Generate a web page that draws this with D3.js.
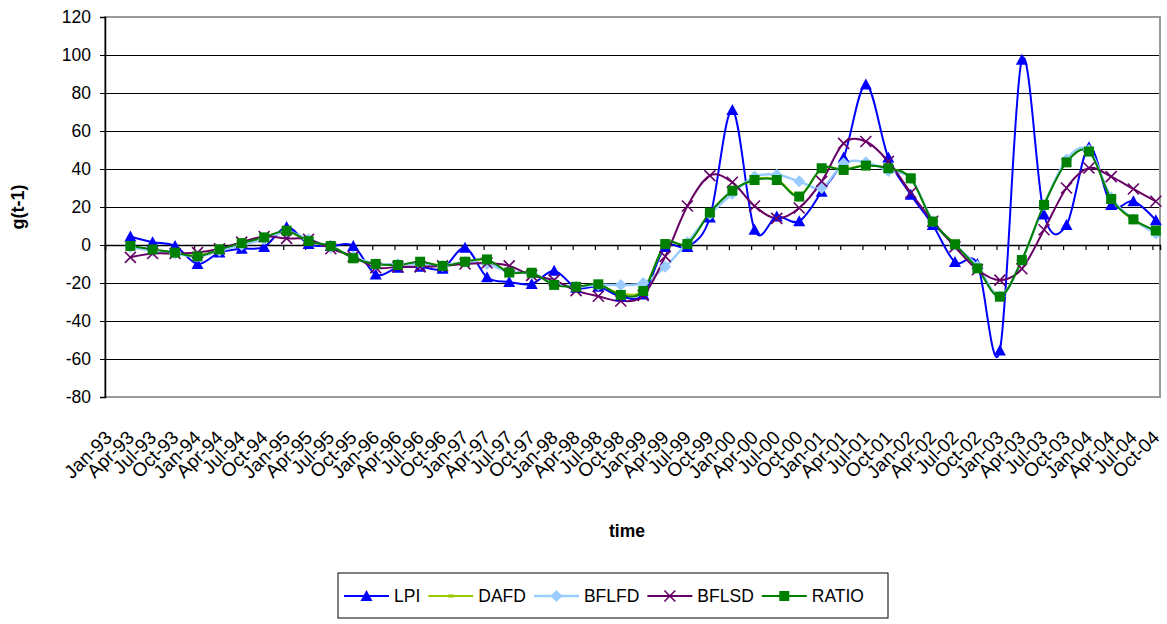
<!DOCTYPE html>
<html>
<head>
<meta charset="utf-8">
<script src="https://cdn.jsdelivr.net/npm/d3@7"></script>
<style>
  body { margin: 0; background: #fff; }
  svg text { font-family: "Liberation Sans", Arial, sans-serif; fill: #000; }
</style>
</head>
<body>
<script>
// Quarter tick labels on the time axis
const tickLabels = [
  "Jan-93","Apr-93","Jul-93","Oct-93","Jan-94","Apr-94","Jul-94","Oct-94",
  "Jan-95","Apr-95","Jul-95","Oct-95","Jan-96","Apr-96","Jul-96","Oct-96",
  "Jan-97","Apr-97","Jul-97","Oct-97","Jan-98","Apr-98","Jul-98","Oct-98",
  "Jan-99","Apr-99","Jul-99","Oct-99","Jan-00","Apr-00","Jul-00","Oct-00",
  "Jan-01","Apr-01","Jul-01","Oct-01","Jan-02","Apr-02","Jul-02","Oct-02",
  "Jan-03","Apr-03","Jul-03","Oct-03","Jan-04","Apr-04","Jul-04","Oct-04"
];
const yTicks = [-80, -60, -40, -20, 0, 20, 40, 60, 80, 100, 120];

// Series values, one per quarter from Apr-93 to Oct-04
const lpi = [4.5, 1.5, -0.5, -10, -4, -2, -1, 9.5, 0.5, -0.5, -0.5, -15.5,
  -12, -11.5, -12.5, -1.5, -17, -19.5, -20.5, -13.5, -22.5, -22, -27, -26,
  -1, -1, 14.5, 71, 8, 15, 12.5, 28, 46, 84.5, 46, 26.5,
  10.5, -9, -10, -55.5, 97.5, 16, 10.5, 51.5, 21, 23, 13];
const dafd = [-0.5, -2.5, -4, -5.5, -2.5, 1, 4, 7, 2, -1, -6.5, -10,
  -10.5, -9.5, -10.5, -9, -8, -14, -15, -20.5, -22, -21, -25.5, -23.5,
  0, 1, 17, 28, 34.5, 34.5, 26, 40, 40, 42, 40.5, 35,
  12.5, 0.5, -12, -26.5, -8.5, 21.5, 44, 49.5, 24.5, 13, 7];
const bflfd = [-1, -3, -4.5, -6, -3, 0, 3, 7, 3, -1.5, -6, -10,
  -10, -10, -11, -9, -10, -14, -15, -20, -22, -21, -21, -20,
  -11.5, 1.5, 16, 27, 36, 37, 33.5, 30, 43, 43.5, 39, 35,
  12.5, 0, -11, -27, -8, 21, 45, 50, 25, 13.5, 6];
const bflsd = [-6.5, -4.5, -4.5, -4, -2, 1.5, 4.5, 3.5, 3, -2, -6, -12,
  -11.5, -11.5, -11, -10, -9.5, -11, -16, -18.5, -24, -27, -29.5, -26.5,
  -6, 20.5, 36.5, 33, 20.5, 14, 19.5, 33.5, 53.5, 54.5, 44, 27.5,
  12.5, -1, -13, -18.5, -12.5, 8, 30, 40.5, 36, 29.5, 23];
const ratio = [-0.5, -2.3, -4, -6, -2.3, 1, 4, 7.5, 2, -0.5, -7, -10,
  -10.5, -8.8, -11, -8.8, -7.6, -14.5, -14.6, -21, -22, -20.7, -26.3, -24.2,
  0.5, 0.5, 17, 28.6, 34.2, 34.2, 25.5, 40.4, 39.5, 41.8, 40.4, 35.1,
  12.3, 0.4, -12.3, -27.2, -7.9, 21.1, 43.5, 49.2, 24.2, 13.5, 7.6];

const series = [
  { name: "LPI",   values: lpi,   color: "#0000FF", width: 2,   marker: "triangle" },
  { name: "DAFD",  values: dafd,  color: "#99CC00", width: 2,   marker: "dash" },
  { name: "BFLFD", values: bflfd, color: "#99CCFF", width: 2.5, marker: "diamond" },
  { name: "BFLSD", values: bflsd, color: "#660066", width: 2,   marker: "cross" },
  { name: "RATIO", values: ratio, color: "#008000", width: 2,   marker: "square" }
];

const width = 1167, height = 624;
const plot = { left: 105, right: 1160, top: 17, bottom: 397 };

const parseQ = d3.timeParse("%b-%y");
const tickDates = tickLabels.map(parseQ);
// points sit mid-month, one quarter after each label start
const pointDates = tickDates.slice(1).map(d => d3.timeDay.offset(d, 14));

const x = d3.scaleTime()
  .domain([tickDates[0], new Date(2004, 10, 1)])
  .range([plot.left, plot.right]);
const y = d3.scaleLinear().domain([-80, 120]).range([plot.bottom, plot.top]);

const svg = d3.select("body").append("svg")
  .attr("width", width)
  .attr("height", height);

// Gridlines
svg.append("g")
  .selectAll("line")
  .data(yTicks)
  .join("line")
  .attr("x1", plot.left).attr("x2", plot.right)
  .attr("y1", d => y(d)).attr("y2", d => y(d))
  .attr("stroke", "#000")
  .attr("stroke-width", 1)
  .attr("shape-rendering", "crispEdges");

// Plot area border
svg.append("rect")
  .attr("x", plot.left).attr("y", plot.top)
  .attr("width", plot.right - plot.left)
  .attr("height", plot.bottom - plot.top)
  .attr("fill", "none")
  .attr("stroke", "#9a9a9a")
  .attr("stroke-width", 2);

// Y axis (plain hyphen minus like the original)
const yAxis = svg.append("g")
  .attr("transform", `translate(${plot.left},0)`)
  .call(d3.axisLeft(y).tickValues(yTicks).tickSize(5).tickPadding(9).tickFormat(d => String(d)));
yAxis.select(".domain").attr("stroke", "#000").attr("stroke-width", 1.5);
yAxis.selectAll(".tick line").attr("stroke", "#000");
yAxis.selectAll("text").style("font-size", "17.5px");

// X axis ticks along zero line
const xTickAxis = svg.append("g")
  .attr("transform", `translate(0,${y(0)})`)
  .call(d3.axisBottom(x).tickValues(tickDates).tickSize(5).tickFormat(""));
xTickAxis.select(".domain").attr("stroke", "#000").attr("stroke-width", 1.5);
xTickAxis.selectAll(".tick line").attr("stroke", "#000").attr("stroke-width", 1.2);

// X tick labels below the plot area
const xLabelAxis = svg.append("g")
  .attr("transform", `translate(0,${plot.bottom})`)
  .call(d3.axisBottom(x).tickValues(tickDates).tickSize(0).tickFormat(d3.timeFormat("%b-%y")));
xLabelAxis.select(".domain").remove();
xLabelAxis.selectAll("text")
  .attr("x", 0).attr("y", 0).attr("dy", "0.35em")
  .attr("transform", "translate(3,37) rotate(-45)")
  .attr("text-anchor", "end")
  .style("font-size", "19px");

// Lines
const line = d3.line()
  .x((d, i) => x(pointDates[i]))
  .y(d => y(d))
  .curve(d3.curveCardinal.tension(0));

svg.append("g")
  .selectAll("path")
  .data(series)
  .join("path")
  .attr("d", s => line(s.values))
  .attr("fill", "none")
  .attr("stroke", s => s.color)
  .attr("stroke-width", s => s.width)
  .attr("stroke-linejoin", "round");

// Marker drawing helper
function drawMarker(g, type, color) {
  if (type === "triangle") {
    g.append("path").attr("d", "M0,-6L6,5L-6,5Z").attr("fill", color);
  } else if (type === "dash") {
    g.append("rect").attr("x", -3).attr("y", -1.5).attr("width", 6).attr("height", 3).attr("fill", color);
  } else if (type === "diamond") {
    g.append("path").attr("d", "M0,-6L6,0L0,6L-6,0Z").attr("fill", color);
  } else if (type === "cross") {
    g.append("path").attr("d", "M-5.5,-5.5L5.5,5.5M-5.5,5.5L5.5,-5.5")
      .attr("stroke", color).attr("stroke-width", 1.6).attr("fill", "none");
  } else if (type === "square") {
    g.append("rect").attr("x", -5).attr("y", -5).attr("width", 10).attr("height", 10).attr("fill", color);
  }
}

series.forEach(s => {
  svg.append("g")
    .selectAll("g")
    .data(s.values)
    .join("g")
    .attr("transform", (d, i) => `translate(${x(pointDates[i])},${y(d)})`)
    .each(function() { drawMarker(d3.select(this), s.marker, s.color); });
});

// Axis titles
svg.append("text")
  .attr("transform", `translate(24,${(plot.top + plot.bottom) / 2}) rotate(-90)`)
  .attr("text-anchor", "middle")
  .style("font-size", "18px")
  .style("font-weight", "bold")
  .text("g(t-1)");

svg.append("text")
  .attr("x", 627).attr("y", 537)
  .attr("text-anchor", "middle")
  .style("font-size", "17.5px")
  .style("font-weight", "bold")
  .text("time");

// Legend
const legend = svg.append("g");
legend.append("rect")
  .attr("x", 338).attr("y", 573)
  .attr("width", 550).attr("height", 45)
  .attr("fill", "#fff")
  .attr("stroke", "#000")
  .attr("stroke-width", 1);

let lx = 344;
const ly = 596;
series.forEach(s => {
  const item = legend.append("g");
  item.append("line")
    .attr("x1", lx).attr("x2", lx + 45)
    .attr("y1", ly).attr("y2", ly)
    .attr("stroke", s.color).attr("stroke-width", s.width);
  const m = item.append("g").attr("transform", `translate(${lx + 22.5},${ly})`);
  drawMarker(m, s.marker, s.color);
  const t = item.append("text")
    .attr("x", lx + 50).attr("y", ly)
    .attr("dy", "0.35em")
    .style("font-size", "17.5px")
    .text(s.name);
  lx += 50 + t.node().getComputedTextLength() + 8;
});
</script>
</body>
</html>
